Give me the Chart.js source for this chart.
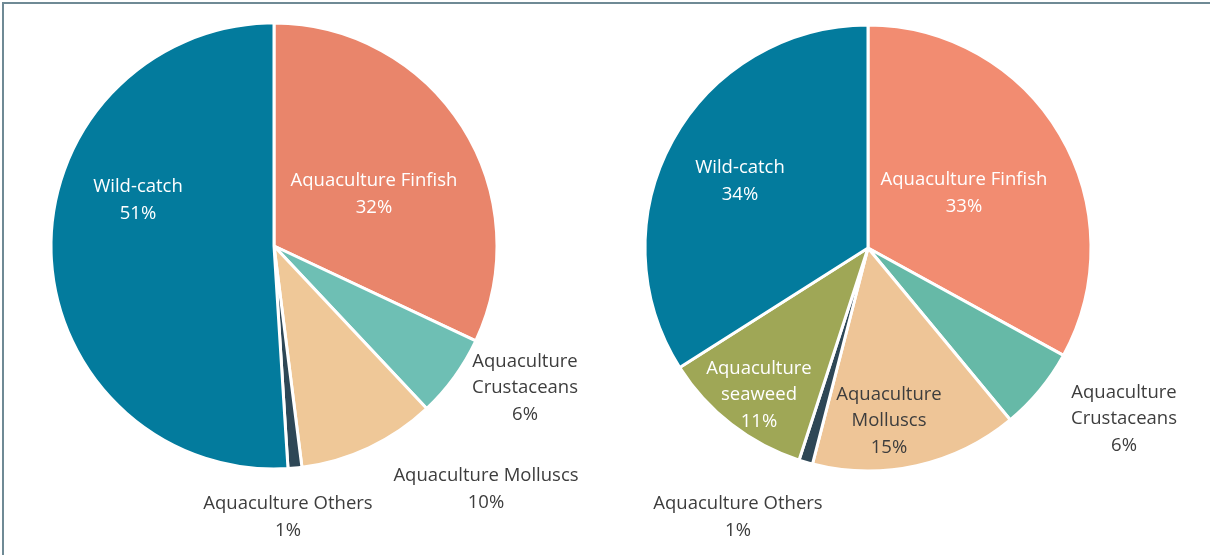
<!DOCTYPE html>
<html>
<head>
<meta charset="utf-8">
<script src="https://cdn.jsdelivr.net/npm/chart.js@4/dist/chart.umd.min.js"></script>
<style>
  html, body { margin: 0; padding: 0; background: #fff; }
  body { width: 1210px; height: 555px; position: relative; overflow: hidden; }
  .frame {
    position: absolute; left: 2px; top: 2px; right: 0; bottom: 0;
    border-top: 2px solid #6f8a95; border-left: 2px solid #6f8a95;
  }
  .pie { position: absolute; top: 0; width: 605px; height: 555px; }
  #pieLeft { left: 0; }
  #pieRight { left: 605px; }
</style>
</head>
<body>
<div class="frame"></div>
<div class="pie" id="pieLeft"><canvas id="leftChart"></canvas></div>
<div class="pie" id="pieRight"><canvas id="rightChart"></canvas></div>
<script>
// Parts de la production, deux périmètres (en %)
const leftCategories = [
  "Aquaculture Finfish",
  ["Aquaculture", "Crustaceans"],
  "Aquaculture Molluscs",
  "Aquaculture Others",
  "Wild-catch",
];
const leftValues = [32, 6, 10, 1, 51];

const rightCategories = [
  "Aquaculture Finfish",
  ["Aquaculture", "Crustaceans"],
  ["Aquaculture", "Molluscs"],
  "Aquaculture Others",
  ["Aquaculture", "seaweed"],
  "Wild-catch",
];
const rightValues = [33, 6, 15, 1, 11, 34];

const DARK_TEXT = "#3d3d3d";

// Position du bloc de texte (centre) relative au centre du camembert
const leftLabelStyle = [
  { dx: 100, dy: -52, color: "#fff" },
  { dx: 251, dy: 142, color: DARK_TEXT },
  { dx: 212, dy: 243, color: DARK_TEXT },
  { dx: 14, dy: 271, color: DARK_TEXT },
  { dx: -136, dy: -46, color: "#fff" },
];
const rightLabelStyle = [
  { dx: 96, dy: -55, color: "#fff" },
  { dx: 256, dy: 171, color: DARK_TEXT },
  { dx: 21, dy: 173, color: DARK_TEXT },
  { dx: -130, dy: 269, color: DARK_TEXT },
  { dx: -109, dy: 147, color: "#fff" },
  { dx: -128, dy: -67, color: "#fff" },
];

const leftColors = ["#e9856b", "#6ebfb4", "#efc898", "#2e4756", "#037b9d"];
const rightColors = ["#f28c71", "#66b9a7", "#eec597", "#2e4756", "#9fa756", "#037b9d"];

const sliceLabels = {
  id: "sliceLabels",
  afterDatasetsDraw(chart, args, opts) {
    const meta = chart.getDatasetMeta(0);
    if (!meta.data.length) return;
    const { x: cx, y: cy } = meta.data[0];
    const ctx = chart.ctx;
    const lineHeight = 26.5;
    ctx.save();
    ctx.font = "18.5px 'Open Sans', sans-serif";
    ctx.textAlign = "center";
    ctx.textBaseline = "middle";
    chart.data.labels.forEach((label, i) => {
      const style = opts.styles[i];
      const value = chart.data.datasets[0].data[i];
      const lines = [].concat(label, value + "%");
      const top = cy + style.dy - ((lines.length - 1) * lineHeight) / 2;
      ctx.fillStyle = style.color;
      lines.forEach((line, k) => {
        ctx.fillText(line, cx + style.dx, top + k * lineHeight);
      });
    });
    ctx.restore();
  },
};

function buildPie(canvasId, labels, values, colors, styles, padding) {
  return new Chart(document.getElementById(canvasId), {
    type: "pie",
    data: {
      labels: labels,
      datasets: [
        {
          data: values,
          backgroundColor: colors,
          borderColor: "#fff",
          borderWidth: 3,
          radius: 223,
        },
      ],
    },
    options: {
      responsive: true,
      maintainAspectRatio: false,
      animation: false,
      layout: { padding: padding },
      plugins: {
        legend: { display: false },
        tooltip: { enabled: false },
        sliceLabels: { styles: styles },
      },
    },
    plugins: [sliceLabels],
  });
}

buildPie("leftChart", leftCategories, leftValues, leftColors, leftLabelStyle,
  { left: 0, top: 0, right: 57, bottom: 63 });
buildPie("rightChart", rightCategories, rightValues, rightColors, rightLabelStyle,
  { left: 0, top: 0, right: 79, bottom: 59 });
</script>
</body>
</html>
